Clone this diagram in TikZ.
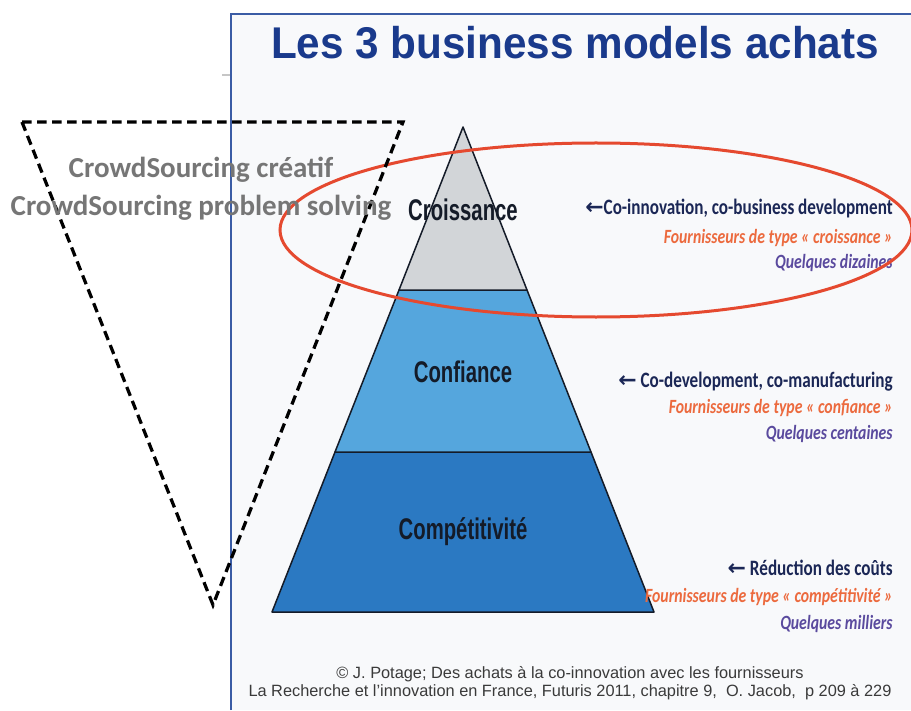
\documentclass[tikz,border=0pt]{standalone}
\usepackage{fontspec}
\setmainfont{Liberation Sans}
\newfontfamily\titlefont[FakeStretch=0.95]{Liberation Sans}
\newfontfamily\layerfont[FakeStretch=0.68]{Liberation Sans}
\newfontfamily\notefont[FakeStretch=0.78]{Carlito}
\newfontfamily\crowdfont{Carlito}
\newfontfamily\arrowfont{DejaVu Sans}
\usetikzlibrary{positioning}
\definecolor{bmSlide}{HTML}{F8F9FB}
\definecolor{bmFrame}{HTML}{3B5CA5}
\definecolor{bmTitle}{HTML}{1A3A8C}
\definecolor{bmGrey}{HTML}{D2D5D8}
\definecolor{bmLight}{HTML}{55A6DD}
\definecolor{bmDeep}{HTML}{2B79C2}
\definecolor{bmInk}{HTML}{141B28}
\definecolor{bmNavy}{HTML}{1B2756}
\definecolor{bmOrange}{HTML}{EC6A3E}
\definecolor{bmPurple}{HTML}{5A4A9E}
\definecolor{bmRed}{HTML}{E5492F}
\definecolor{bmCrowd}{HTML}{767676}
\definecolor{bmFoot}{HTML}{3A3A3A}
\tikzset{
  layer/.style     ={draw=bmInk,line width=0.3mm,line join=round},
  layerlbl/.style  ={font=\layerfont\bfseries\fontsize{17}{20}\selectfont,text=bmInk,inner sep=0pt},
  notemain/.style  ={font=\notefont\bfseries\fontsize{12.5}{15}\selectfont,text=bmNavy,
                     anchor=base east,inner sep=0pt},
  notetype/.style  ={font=\notefont\bfseries\itshape\fontsize{11.5}{14}\selectfont,text=bmOrange,
                     anchor=base east,inner sep=0pt},
  notecount/.style ={notetype,text=bmPurple},
  crowd/.style     ={font=\crowdfont\bfseries\fontsize{16.5}{19}\selectfont,text=bmCrowd,inner sep=0pt},
  crowdcut/.style  ={black,line width=0.65mm,dash pattern=on 1.9mm off 1.1mm,line join=miter},
  ring/.style      ={bmRed,line width=0.6mm},
  foot/.style      ={font=\fontsize{9.3}{11}\selectfont,text=bmFoot,inner sep=0pt},
}
\newcommand{\larr}{{\arrowfont\bfseries ←}}

\begin{document}
\begin{tikzpicture}[x=0.2mm,y=-0.2mm]
\useasboundingbox (0,0) rectangle (911,710);
\fill[white] (0,0) rectangle (911,710);

% slide
\fill[bmSlide] (231,14) rectangle (911,710);
\draw[bmFrame,line width=0.4mm] (231,710) -- (231,14) -- (911,14);
\draw[gray!45,line width=0.3mm] (222,75) -- (230,75);
\node[font=\titlefont\bfseries\fontsize{25.3}{30}\selectfont,text=bmTitle,inner sep=0pt]
  (title) at (575,43) {Les 3 business models achats};

% pyramid
\coordinate (apex) at (463,127);
\coordinate (gl) at (399,290);  \coordinate (gr) at (527,290);
\coordinate (cl) at (335,452);  \coordinate (cr) at (591,452);
\coordinate (bl) at (272,612);  \coordinate (br) at (654,612);
\draw[layer,fill=bmDeep]  (cl) -- (cr) -- (br) -- (bl) -- cycle;
\draw[layer,fill=bmLight] (gl) -- (gr) -- (cr) -- (cl) -- cycle;
\draw[layer,fill=bmGrey]  (apex) -- (gr) -- (gl) -- cycle;

\node[layerlbl] (croissance)    at (463,210) {Croissance};
\node[layerlbl] (confiance)     at (463,372) {Confiance};
\node[layerlbl] (competitivite) at (463,532) {Compétitivité};

% supplier notes
\node[notemain]  (growth)      at (893,215) {\larr Co-innovation, co-business development};
\node[notetype]  (growthtype)  at (893,244) {Fournisseurs de type « croissance »};
\node[notecount] (growthcount) at (893,269) {Quelques dizaines};

\node[notemain]  (trust)       at (893,387) {\larr\ Co-development, co-manufacturing};
\node[notetype]  (trusttype)   at (893,413) {Fournisseurs de type « confiance »};
\node[notecount] (trustcount)  at (893,439) {Quelques centaines};

\node[notemain]  (cost)        at (893,575) {\larr\ Réduction des coûts};
\node[notetype]  (costtype)    at (893,602) {Fournisseurs de type « compétitivité »};
\node[notecount] (costcount)   at (893,629) {Quelques milliers};

% red ring round the top layer
\draw[ring] (596,230) ellipse [x radius=316,y radius=87];

% crowdsourcing funnel
\draw[crowdcut] (22,122) -- (403,122) -- (213,605) -- cycle;
\node[crowd] (creatif) at (201,170) {CrowdSourcing créatif};
\node[crowd] (solving) at (201,208) {CrowdSourcing problem solving};

% source
\node[foot] (src)  at (570,674) {© J. Potage; Des achats à la co-innovation avec les fournisseurs};
\node[foot] (src2) at (570,692) {La Recherche et l'innovation en France, Futuris 2011, chapitre 9,\ \ O. Jacob,\ \ p 209 à 229};
\end{tikzpicture}
\end{document}
